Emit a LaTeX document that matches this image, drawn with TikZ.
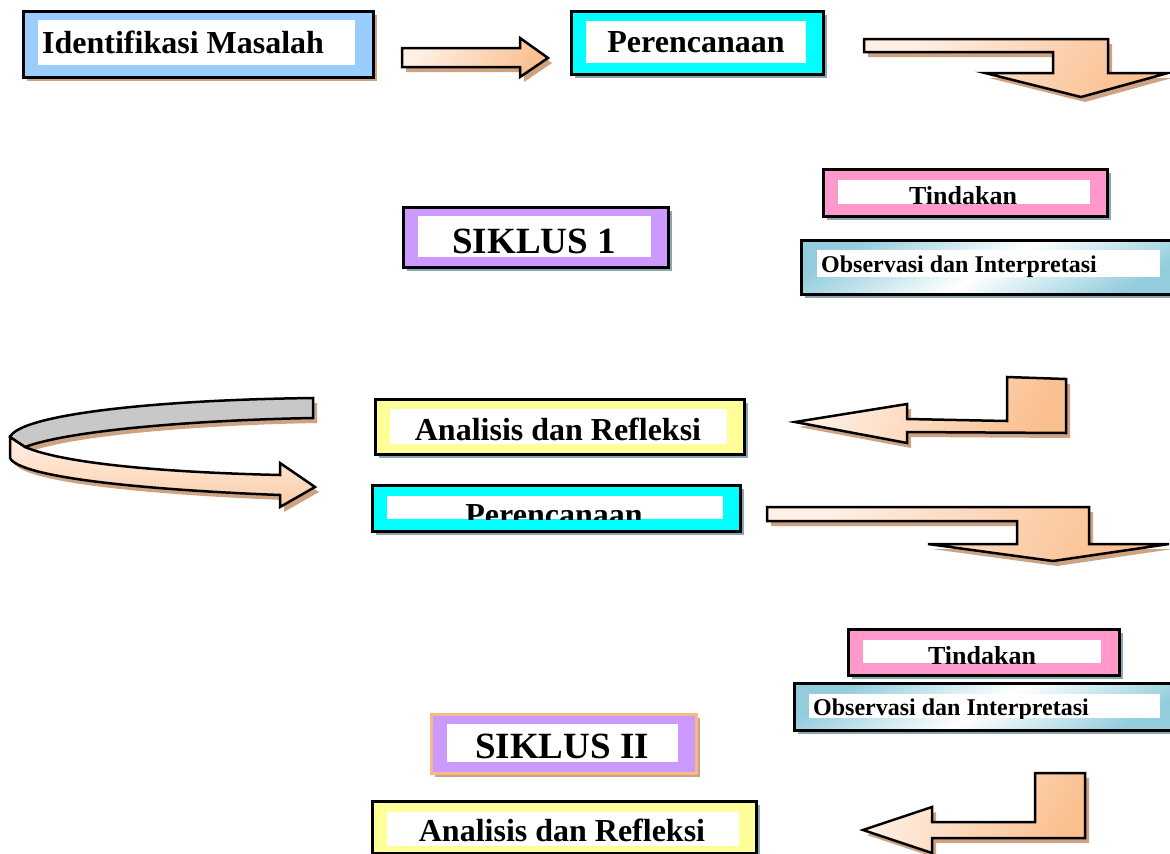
\documentclass[tikz,border=0pt]{standalone}
\usepackage{fontspec}
\setmainfont{Liberation Serif}
\definecolor{lblue}{HTML}{99CCFF}
\definecolor{cyanb}{HTML}{00FFFF}
\definecolor{pinkb}{HTML}{FF99CC}
\definecolor{purpb}{HTML}{CC99FF}
\definecolor{yellb}{HTML}{FFFF99}
\definecolor{obsblue}{HTML}{93CDDD}
\definecolor{peachedge}{HTML}{F6B98C}
\definecolor{shbrown}{HTML}{CDA383}
\definecolor{shgray}{HTML}{8CA6B0}
\definecolor{peachD}{HTML}{FAC090}
\definecolor{peachL}{HTML}{FFF0E6}
\definecolor{ribgray}{HTML}{C8C8C8}
\tikzset{
  frame/.style={draw=black, line width=2.5pt, rectangle, inner sep=0pt, anchor=north west},
  lbl/.style={font=\bfseries\fontsize{#1}{#1}\selectfont, inner sep=0pt, anchor=base},
  arrshadow/.style={fill=shbrown},
  arrmain/.style={draw=black, line width=2.5pt, line join=miter, left color=peachL, right color=peachD, shading angle=60},
  ribline/.style={draw=black, line width=2.5pt, line join=miter},
}
\begin{document}
\begin{tikzpicture}[x=1pt,y=-1pt]
\clip (0,0) rectangle (1170,854);
\fill[white] (0,0) rectangle (1170,854);

% ---- Identifikasi Masalah
\fill[shbrown] (27,15) rectangle (377,81);
\node[frame, fill=lblue, minimum width=350pt, minimum height=66pt] (idm) at (22,10) {};
\fill[white] (38,20) rectangle (355,65);
\node[lbl=32, anchor=base west] (idmt) at (42,53) {Identifikasi Masalah};

% ---- Perencanaan 1
\fill[shgray] (575,15) rectangle (827,78);
\node[frame, fill=cyanb, minimum width=252pt, minimum height=63pt] (per1) at (570,10) {};
\fill[white] (586,21) rectangle (806,63);
\node[lbl=32] (per1t) at (696,52) {Perencanaan};

% ---- SIKLUS 1
\fill[shgray] (407,211) rectangle (672,271);
\node[frame, fill=purpb, minimum width=265pt, minimum height=60pt] (sik1) at (402,206) {};
\fill[white] (418,216) rectangle (651,257);
\node[lbl=37] (sik1t) at (534,253) {SIKLUS 1};

% ---- Tindakan 1
\fill[shgray] (827,173) rectangle (1111,220);
\node[frame, fill=pinkb, minimum width=284pt, minimum height=47pt] (tin1) at (822,168) {};
\fill[white] (838,180) rectangle (1090,204);
\begin{scope}
\clip (838,180) rectangle (1090,204.5);
\node[lbl=26] (tin1t) at (963,204) {Tindakan};
\end{scope}

% ---- Observasi 1
\fill[shgray] (805,244) rectangle (1185,298);
\node[frame, left color=obsblue, right color=obsblue, middle color=white, shading angle=30, minimum width=380pt, minimum height=54pt] (obs1) at (800,239) {};
\fill[white] (817,250) rectangle (1160,277);
\node[lbl=24, anchor=base west] (obs1t) at (821,272) {Observasi dan Interpretasi};

% ---- Analisis 1
\fill[shgray] (379,403) rectangle (748,458);
\node[frame, fill=yellb, minimum width=369pt, minimum height=55pt] (ana1) at (374,398) {};
\fill[white] (390,409) rectangle (727,444);
\node[lbl=32] (ana1t) at (558,440) {Analisis dan Refleksi};

% ---- Perencanaan 2
\fill[shgray] (376,489) rectangle (744,535);
\node[frame, fill=cyanb, minimum width=368pt, minimum height=46pt] (per2) at (371,484) {};
\fill[white] (387,496) rectangle (723,519);
\begin{scope}
\clip (387,496) rectangle (723,519);
\node[lbl=32] (per2t) at (554,525) {Perencanaan};
\end{scope}

% ---- Tindakan 2
\fill[shgray] (852,633) rectangle (1123,679);
\node[frame, fill=pinkb, minimum width=271pt, minimum height=46pt] (tin2) at (847,628) {};
\fill[white] (863,640) rectangle (1101,663);
\begin{scope}
\clip (863,640) rectangle (1101,663);
\node[lbl=26] (tin2t) at (982,664) {Tindakan};
\end{scope}

% ---- Observasi 2
\fill[shgray] (798,687) rectangle (1185,734);
\node[frame, left color=obsblue, right color=obsblue, middle color=white, shading angle=30, minimum width=387pt, minimum height=47pt] (obs2) at (793,682) {};
\fill[white] (809,694) rectangle (1160,718);
\begin{scope}
\clip (809,694) rectangle (1160,718);
\node[lbl=24, anchor=base west] (obs2t) at (813,715) {Observasi dan Interpretasi};
\end{scope}

% ---- SIKLUS II
\fill[shbrown] (435,718) rectangle (700,777);
\node[frame, draw=peachedge, fill=purpb, minimum width=265pt, minimum height=59pt] (sik2) at (430,713) {};
\fill[white] (447,724) rectangle (678,762);
\node[lbl=37] (sik2t) at (562,758) {SIKLUS II};

% ---- Analisis 2
\fill[shgray] (376,805) rectangle (760,857);
\node[frame, fill=yellb, minimum width=384pt, minimum height=52pt] (ana2) at (371,800) {};
\fill[white] (387,812) rectangle (739,846);
\node[lbl=32] (ana2t) at (562,841) {Analisis dan Refleksi};

% ---- Block arrows
\foreach \dx/\dy/\st in {4/5/arrshadow, 0/0/arrmain}{
  % right arrow
  \path[\st, shift={(\dx,\dy)}] (402,48) -- (520,48) -- (520,38) -- (548,58) -- (520,77) -- (520,67) -- (402,67) -- cycle;
  % bent arrow top right
  \path[\st, shift={(\dx,\dy)}] (864,39) -- (1108,39) -- (1108,73) -- (1168,73) -- (1081,97) -- (985,73) -- (1053,73) -- (1053,52) -- (864,52) -- cycle;
  % left arrow 1
  \path[\st, shift={(\dx,\dy)}] (795,422) -- (907,404) -- (907,419) -- (1007,421) -- (1007,377) -- (1066,379) -- (1066,433) -- (907,432) -- (907,443) -- cycle;
  % bent arrow 2
  \path[\st, shift={(\dx,\dy)}] (767,507) -- (1089,507) -- (1089,544) -- (1169,544) -- (1053,561) -- (928,544) -- (1017,544) -- (1017,521) -- (767,521) -- cycle;
  % left arrow 2
  \path[\st, shift={(\dx,\dy)}] (863,830) -- (932,807) -- (932,822) -- (1035,822) -- (1035,773) -- (1085,773) -- (1085,838) -- (932,838) -- (932,853) -- cycle;
}

% ---- U-turn ribbon
\begin{scope}[shift={(4,5)}]
  \fill[shbrown] (313,398) .. controls (150,400) and (20,415) .. (10,437) -- (25,447) .. controls (70,430) and (200,420) .. (313,418) -- cycle;
  \fill[shbrown] (10,437) -- (10,458) .. controls (20,478) and (150,490) .. (280,495) -- (280,507) -- (315,487) -- (280,463) -- (280,475) .. controls (150,472) and (60,462) .. (25,447) -- cycle;
\end{scope}
\path[ribline, fill=ribgray] (313,398) .. controls (150,400) and (20,415) .. (10,437) -- (25,447) .. controls (70,430) and (200,420) .. (313,418) -- cycle;
\path[ribline, top color=peachL, bottom color=peachD!80] (10,437) -- (10,458) .. controls (20,478) and (150,490) .. (280,495) -- (280,507) -- (315,487) -- (280,463) -- (280,475) .. controls (150,472) and (60,462) .. (25,447) -- cycle;
\end{tikzpicture}
\end{document}
